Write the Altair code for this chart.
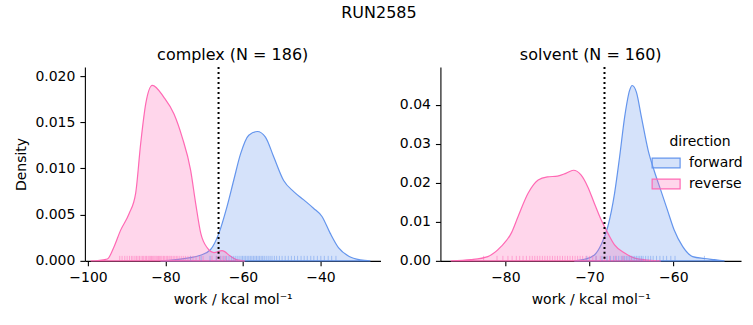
import altair as alt
import pandas as pd

directions = ["forward", "reverse"]
dir_colors = ["#6495ED", "#FF69B4"]
dir_fills = ["rgba(100,149,237,0.27)", "rgba(255,105,180,0.27)"]

# complex panel KDE curves
cx_rev_x = [-99.3, -97.6, -95.0, -93.3, -91.6, -89.4, -87.7, -86.4, -85.1, -83.4, -80.4, -77.8, -75.7,
            -73.5, -72.2, -70.9, -69.2, -67.5, -65.4, -63.2, -61.5, -59.5]
cx_rev_y = [0.0, 0.00003, 0.0002, 0.0015, 0.0033, 0.0051, 0.0073, 0.0127, 0.0170, 0.0190, 0.0177, 0.0159,
            0.0134, 0.0098, 0.0062, 0.0030, 0.0014, 0.0009, 0.0011, 0.0005, 0.0001, 0.0]
cx_fwd_x = [-81.3, -74.4, -71.0, -68.4, -66.2, -64.1, -62.4, -60.6, -58.5, -56.3, -54.2, -52.1, -49.5,
            -46.9, -44.3, -41.8, -39.6, -37.5, -35.3, -32.7, -29.7, -27.1]
cx_fwd_y = [0.0, 0.0003, 0.0006, 0.0012, 0.0030, 0.0059, 0.0087, 0.0116, 0.0136, 0.0140, 0.0134, 0.0113,
            0.0087, 0.0075, 0.0066, 0.0057, 0.0048, 0.0030, 0.0014, 0.0005, 0.0001, 0.0]

# solvent panel KDE curves
sv_rev_x = [-86.5, -84.1, -82.1, -80.5, -79.3, -78.5, -77.3, -76.1, -75.0, -73.8, -72.8, -71.9, -71.0,
            -70.2, -69.4, -68.6, -67.8, -67.0, -65.8, -64.6, -63.0, -61.5]
sv_rev_y = [0.0, 0.0003, 0.0011, 0.0037, 0.0071, 0.0113, 0.0173, 0.0207, 0.0215, 0.0217, 0.0224, 0.0232,
            0.0220, 0.0190, 0.0147, 0.0105, 0.0071, 0.0041, 0.0020, 0.0007, 0.0002, 0.0]
sv_fwd_x = [-71.8, -70.6, -69.4, -68.6, -67.8, -67.0, -66.4, -65.8, -65.2, -64.9, -64.4, -63.8, -63.0,
            -62.3, -61.5, -60.7, -59.9, -58.9, -57.7, -56.3, -55.1, -53.9]
sv_fwd_y = [0.0, 0.0004, 0.0015, 0.0041, 0.0088, 0.0173, 0.0266, 0.0368, 0.0437, 0.0449, 0.0432, 0.0368,
            0.0283, 0.0232, 0.0181, 0.0130, 0.0079, 0.0037, 0.0011, 0.0006, 0.0003, 0.0]

# rug values (approximate work values)
cx_rev_rug = [-91.8, -91.2, -90.5, -89.9, -89.3, -88.8, -88.4, -87.9, -87.5, -87.1, -86.7, -86.3, -85.9,
              -85.6, -85.2, -84.9, -84.5, -84.2, -83.9, -83.6, -83.3, -83.0, -82.7, -82.4, -82.1, -81.8,
              -81.5, -81.2, -80.9, -80.5, -80.2, -79.8, -79.5, -79.1, -78.8, -78.4, -78.0, -77.6, -77.2,
              -76.8, -76.3, -75.8, -75.3, -74.8, -74.2, -73.6, -72.9, -72.1, -71.2, -70.3, -68.0, -66.8,
              -65.9, -65.2, -64.5]
cx_fwd_rug = [-73.5, -70.8, -68.5, -66.9, -65.7, -64.9, -64.2, -63.6, -63.0, -62.5, -62.0, -61.5, -61.0,
              -60.5, -60.1, -59.7, -59.3, -58.9, -58.5, -58.1, -57.7, -57.3, -56.9, -56.5, -56.1, -55.7,
              -55.3, -54.9, -54.5, -54.0, -53.5, -53.0, -52.5, -51.9, -51.3, -50.6, -49.9, -49.1, -48.3,
              -47.5, -46.7, -45.9, -45.0, -44.2, -43.4, -42.5, -41.7, -40.8, -39.9, -39.0, -38.0, -37.1,
              -36.0]
sv_rev_rug = [-82.6, -81.0, -80.3, -79.7, -79.2, -78.7, -78.3, -77.9, -77.5, -77.1, -76.8, -76.5, -76.2,
              -75.9, -75.6, -75.3, -75.0, -74.7, -74.4, -74.1, -73.8, -73.5, -73.2, -72.9, -72.6, -72.3,
              -72.0, -71.7, -71.4, -71.1, -70.8, -70.4, -70.0, -69.6, -69.2, -68.7, -68.2, -67.6, -66.9,
              -66.0, -65.0]
sv_fwd_rug = [-70.3, -69.2, -68.5, -67.9, -67.5, -67.1, -66.8, -66.5, -66.2, -66.0, -65.8, -65.6, -65.4,
              -65.2, -65.0, -64.8, -64.6, -64.4, -64.2, -64.0, -63.8, -63.6, -63.3, -63.0, -62.7, -62.4,
              -62.0, -61.6, -61.2, -60.8, -60.3, -59.8, -56.3]

cx_dotted = [-66.3]
sv_dotted = [-68.2]

FONT = "DejaVu Sans"
XTITLE = "work / kcal mol\u207b\u00b9"


def kde_frame(fx, fy, rx, ry):
    return pd.concat([
        pd.DataFrame({"work": fx, "density": fy, "direction": "forward"}),
        pd.DataFrame({"work": rx, "density": ry, "direction": "reverse"}),
    ], ignore_index=True)


def rug_frame(f, r):
    return pd.concat([
        pd.DataFrame({"work": f, "direction": "forward"}),
        pd.DataFrame({"work": r, "direction": "reverse"}),
    ], ignore_index=True)


def panel(kde, rug, dotted, xdom, ydom, xticks, yticks, yfmt, title, ytitle, width, height, show_legend):
    xs = alt.Scale(domain=xdom, nice=False, zero=False)
    ys = alt.Scale(domain=ydom, nice=False, zero=False)
    xax = alt.Axis(values=xticks, format="d", title=XTITLE)
    yax = alt.Axis(values=yticks, format=yfmt, title=ytitle)
    if show_legend:
        leg = alt.Legend(title="direction", orient="none", legendX=218, legendY=68)
    else:
        leg = None
    area = alt.Chart(kde).mark_area(strokeWidth=1.2, interpolate="monotone").encode(
        x=alt.X("work:Q", scale=xs, axis=xax),
        y=alt.Y("density:Q", scale=ys, axis=yax, stack=None),
        fill=alt.Fill("direction:N", scale=alt.Scale(domain=directions, range=dir_fills), legend=leg),
        stroke=alt.Stroke("direction:N", scale=alt.Scale(domain=directions, range=dir_colors), legend=leg),
    )
    rugs = alt.Chart(rug).mark_rule(strokeWidth=1, opacity=0.5).encode(
        x=alt.X("work:Q", scale=xs),
        y=alt.value(height),
        y2=alt.value(height - 5),
        color=alt.Color("direction:N", scale=alt.Scale(domain=directions, range=dir_colors), legend=None),
    )
    vline = alt.Chart(pd.DataFrame({"work": dotted})).mark_rule(
        color="black", strokeWidth=2, strokeDash=[2, 3]
    ).encode(x=alt.X("work:Q", scale=xs))
    return alt.layer(area, rugs, vline).properties(
        width=width, height=height,
        title=alt.TitleParams(title, fontSize=16, font=FONT, fontWeight="normal", offset=3),
    )


left = panel(kde_frame(cx_fwd_x, cx_fwd_y, cx_rev_x, cx_rev_y), rug_frame(cx_fwd_rug, cx_rev_rug), cx_dotted,
             [-100.8, -24.5], [0, 0.02097], [-100, -80, -60, -40], [0, 0.005, 0.010, 0.015, 0.020], ".3f",
             "complex (N = 186)", "Density", 296, 194, False)
right = panel(kde_frame(sv_fwd_x, sv_fwd_y, sv_rev_x, sv_rev_y), rug_frame(sv_fwd_rug, sv_rev_rug), sv_dotted,
              [-87.74, -51.94], [0, 0.0496], [-80, -70, -60], [0, 0.01, 0.02, 0.03, 0.04], ".2f",
              "solvent (N = 160)", None, 301, 194, True)

chart = alt.hconcat(left, right, spacing=18).resolve_legend(
    fill="independent", stroke="independent", color="independent"
).properties(
    title=alt.TitleParams("RUN2585", fontSize=16, font=FONT, fontWeight="normal", anchor="middle", offset=26),
    padding={"left": 14, "top": 5, "right": 10, "bottom": 5},
).configure_view(stroke=None).configure_axis(
    domainColor="black", tickColor="black", labelColor="black", titleColor="black",
    labelFont=FONT, titleFont=FONT, labelFontSize=14, titleFontSize=14, titleFontWeight="normal",
    grid=False, domainWidth=1.1, tickWidth=1.1, tickSize=5, labelPadding=5, zindex=1,
).configure_axisY(titlePadding=6).configure_axisX(titlePadding=8).configure_legend(
    titleFont=FONT, labelFont=FONT, titleFontSize=14, labelFontSize=14, titleFontWeight="normal",
    titleColor="black", labelColor="black", titleAnchor="middle", titlePadding=6,
    symbolType="M-2,-0.7H2V0.7H-2Z", symbolSize=196, symbolStrokeWidth=1.2, labelOffset=15,
    rowPadding=5, padding=0,
)

chart.save("out.html", embed_options={"renderer": "svg", "actions": False})
